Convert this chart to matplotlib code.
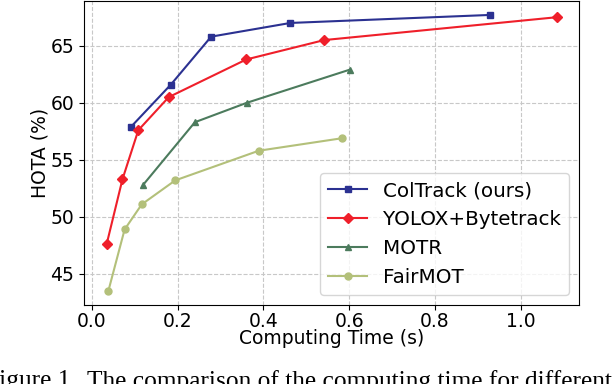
import matplotlib.pyplot as plt

# computing time (s) and HOTA (%) per method
coltrack_t = [0.091, 0.184, 0.278, 0.463, 0.928]
coltrack_h = [57.9, 61.6, 65.8, 67.0, 67.7]

yolox_t = [0.034, 0.071, 0.108, 0.179, 0.360, 0.542, 1.084]
yolox_h = [47.6, 53.3, 57.6, 60.5, 63.8, 65.5, 67.5]

motr_t = [0.119, 0.240, 0.361, 0.601]
motr_h = [52.8, 58.3, 60.0, 62.9]

fairmot_t = [0.038, 0.076, 0.116, 0.194, 0.389, 0.584]
fairmot_h = [43.5, 48.9, 51.1, 53.2, 55.8, 56.9]

fig = plt.figure(figsize=(6.14, 3.84), dpi=100)
ax = fig.add_axes([0.137, 0.206, 0.806, 0.791])

ax.plot(coltrack_t, coltrack_h, marker='s', color='#2b3191', lw=1.5, ms=5, label='ColTrack (ours)')
ax.plot(yolox_t, yolox_h, marker='D', color='#ef1f2a', lw=1.5, ms=5, label='YOLOX+Bytetrack')
ax.plot(motr_t, motr_h, marker='^', color='#4c7b5d', lw=1.5, ms=5, label='MOTR')
ax.plot(fairmot_t, fairmot_h, marker='o', color='#b3c07a', lw=1.5, ms=5, label='FairMOT')

ax.set_xlabel('Computing Time (s)', fontsize=13.5, labelpad=-1)
ax.set_ylabel('HOTA (%)', fontsize=13.5, labelpad=1)
ax.tick_params(labelsize=13.5)
ax.tick_params(axis='x', pad=1.5)
ax.set_yticks([45, 50, 55, 60, 65])
ax.grid(True, linestyle='--', color='#c8c8c8', lw=0.8)
ax.legend(loc='lower right', fontsize=14.3)

# caption below the chart, cut off at the bottom edge like in the paper
fig.text(77 / 614, 0.036, 'Figure 1.', family='Liberation Serif', fontsize=18.3,
         ha='right', va='top')
fig.text(87 / 614, 0.036, 'The comparison of the computing time for different methods',
         family='Liberation Serif', fontsize=18.3, ha='left', va='top')

fig.savefig('out.png', dpi=100)
